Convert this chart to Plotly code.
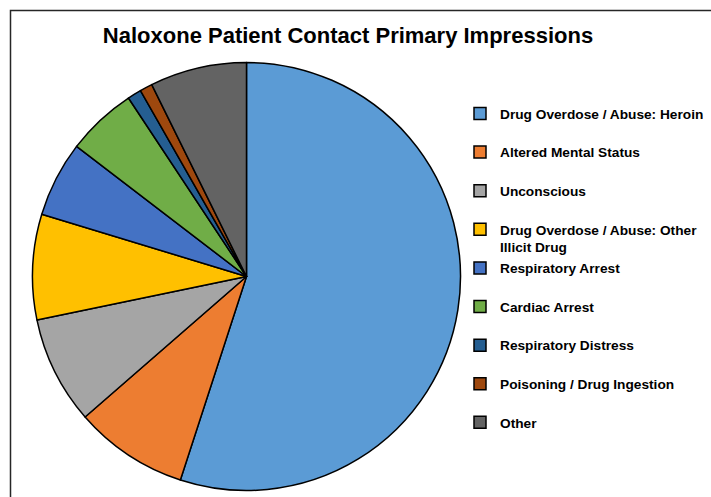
import plotly.graph_objects as go

categories = [
    "Drug Overdose / Abuse: Heroin",
    "Altered Mental Status",
    "Unconscious",
    "Drug Overdose / Abuse: Other<br>Illicit Drug",
    "Respiratory Arrest",
    "Cardiac Arrest",
    "Respiratory Distress",
    "Poisoning / Drug Ingestion",
    "Other",
]
values = [55.0, 8.6, 8.15, 7.95, 5.7, 5.3, 1.05, 0.95, 7.3]
colors = ["#5B9BD5", "#ED7D31", "#A5A5A5", "#FFC000", "#4472C4",
          "#70AD47", "#255E91", "#9E480E", "#636363"]
title_text = "Naloxone Patient Contact Primary Impressions"

W, H = 711, 497
# legend labels padded to two lines so each entry has the same height
legend_labels = [c if "<br>" in c else c + "<br> " for c in categories]

cx, cy, r = 246.5, 276.5, 214
fig = go.Figure(go.Pie(
    labels=legend_labels,
    values=values,
    sort=False,
    direction="clockwise",
    rotation=0,
    textinfo="none",
    hoverinfo="label+percent",
    marker=dict(colors=colors, line=dict(color="#000000", width=1.5)),
    domain=dict(x=[(cx - r) / W, (cx + r) / W],
                y=[1 - (cy + r) / H, 1 - (cy - r) / H]),
))

fig.update_layout(
    width=W, height=H,
    margin=dict(l=0, r=0, t=0, b=0),
    paper_bgcolor="white",
    plot_bgcolor="white",
    title=dict(text=title_text, x=348 / W, xanchor="center", xref="paper",
               y=1 - 35 / H, yanchor="middle", yref="paper",
               font=dict(family="Liberation Sans, Arial", size=22, color="#000000", weight="bold")),
    legend=dict(x=(500 - 40) / W, xanchor="left", y=1 - 98 / H, yanchor="top",
                valign="top", bgcolor="rgba(0,0,0,0)",
                font=dict(family="Liberation Sans, Arial", size=13.7, color="#000000", weight="bold")),
    showlegend=True,
    shapes=[dict(type="rect", xref="paper", yref="paper",
                 x0=10.5 / W, x1=1.05, y0=-0.05, y1=1 - 10.5 / H,
                 line=dict(color="#262626", width=1.5), fillcolor="rgba(0,0,0,0)")],
)

fig.write_html("out.html", config={"displayModeBar": False},
               post_script="document.body.style.margin='0';document.body.style.overflow='hidden';")
